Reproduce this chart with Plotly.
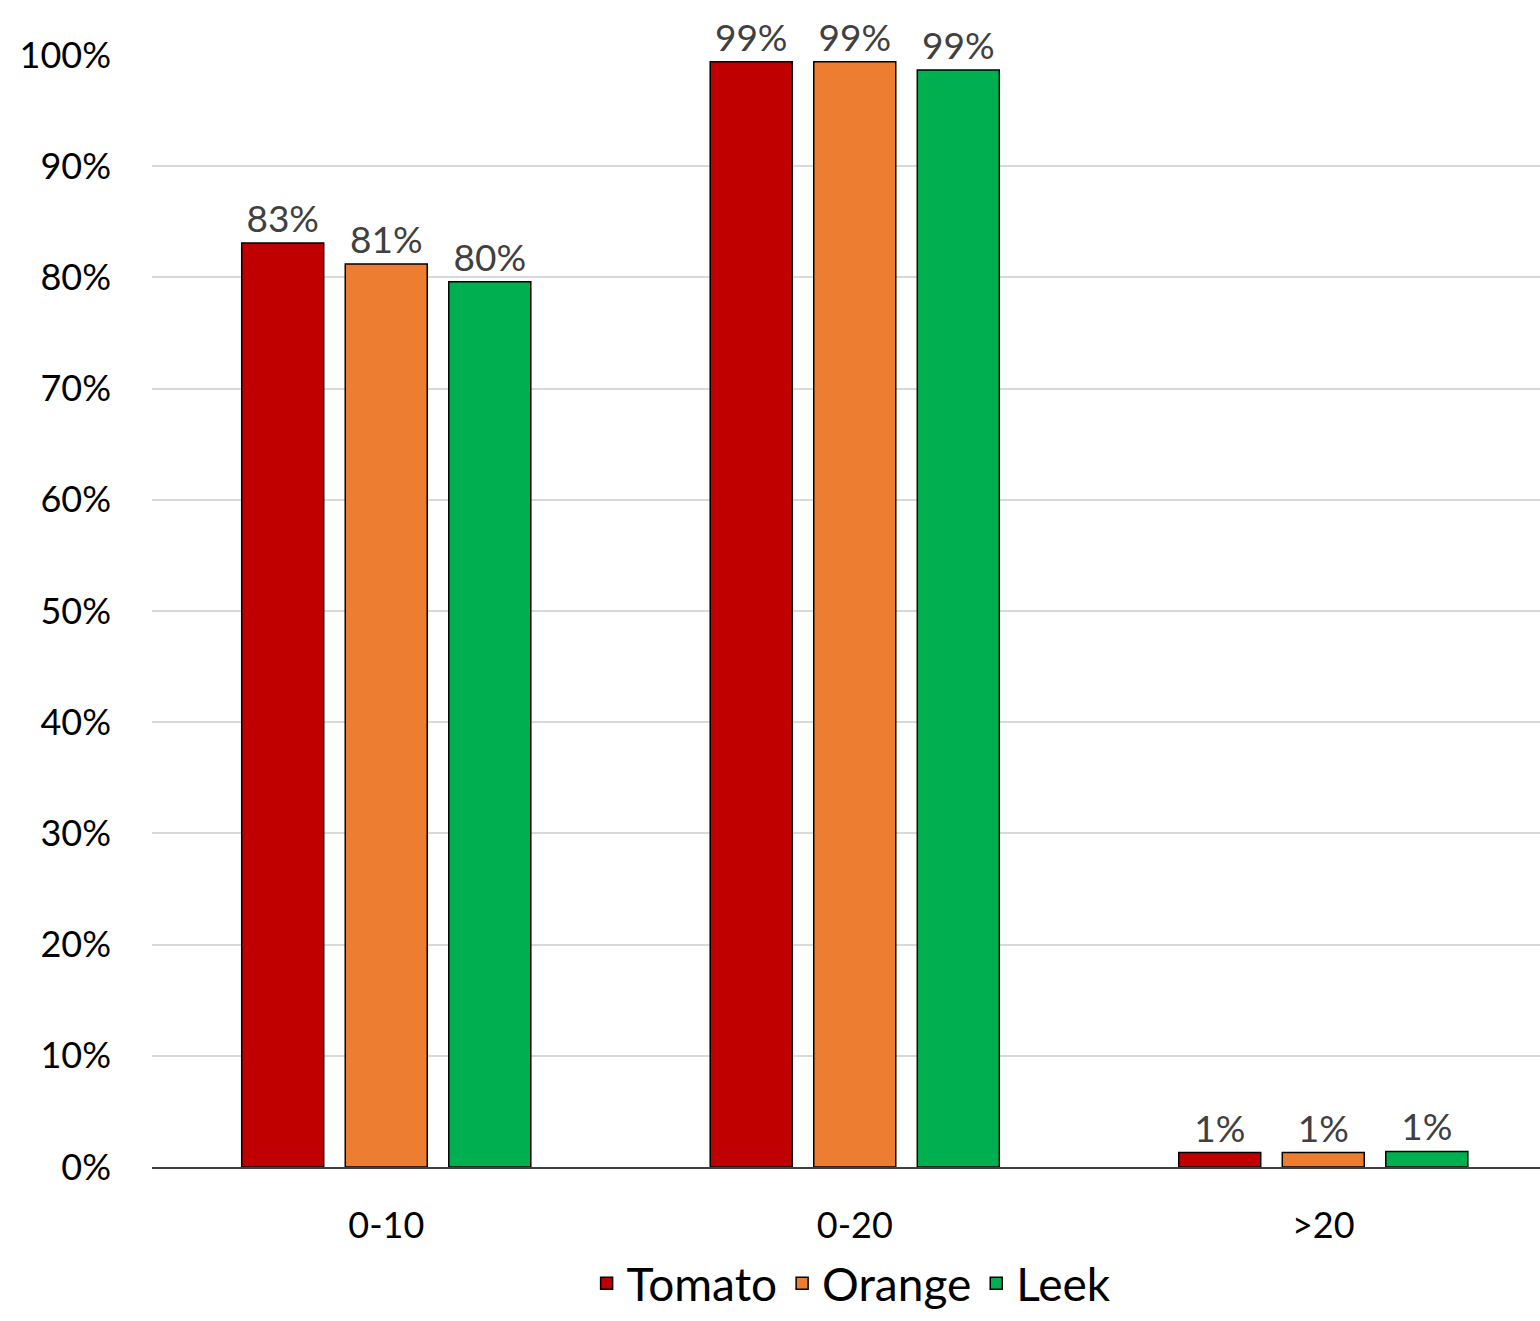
import plotly.graph_objects as go

# Share of samples per size class, by crop
categories = ["0-10", "0-20", ">20"]
tomato = [0.831, 0.994, 0.013]
orange = [0.812, 0.994, 0.013]
leek = [0.796, 0.9865, 0.014]

series_names = ["Tomato", "Orange", "Leek"]
series_values = [tomato, orange, leek]
series_colors = ["#C00000", "#ED7D31", "#00B050"]

y_ticks = [i / 10 for i in range(11)]

FONT = "Lato, 'Open Sans', sans-serif"

fig = go.Figure()
for name, vals, color in zip(series_names, series_values, series_colors):
    fig.add_trace(go.Bar(
        name=name,
        x=categories,
        y=vals,
        marker=dict(color=color, line=dict(color="#000000", width=1.5)),
        texttemplate="%{y:.0%}",
        textposition="outside",
        textfont=dict(family=FONT, size=37, color="#404040"),
        constraintext="none",
        cliponaxis=False,
    ))

fig.update_layout(
    width=1540,
    height=1321,
    margin=dict(l=152, r=0, t=55, b=154),
    paper_bgcolor="white",
    plot_bgcolor="white",
    barmode="group",
    bargap=0.337,
    bargroupgap=0.208,
    font=dict(family=FONT, color="#000000"),
    legend=dict(
        orientation="h",
        xref="container", yref="container",
        x=0.553, xanchor="center",
        y=0.0285, yanchor="middle",
        font=dict(family=FONT, size=46, color="#000000"),
        itemwidth=30,
        traceorder="normal",
    ),
    xaxis=dict(
        type="category",
        range=[-0.5, 2.4626],
        showgrid=False,
        showline=True,
        linecolor="#404040",
        linewidth=2,
        ticks="",
        ticklabelstandoff=26,
        tickfont=dict(family=FONT, size=36, color="#000000"),
    ),
    yaxis=dict(
        range=[0, 1],
        tickvals=y_ticks,
        tickformat=".0%",
        showgrid=True,
        gridcolor="#D9D9D9",
        gridwidth=2,
        zeroline=False,
        showline=False,
        ticks="",
        ticklabelstandoff=40,
        tickfont=dict(family=FONT, size=36, color="#000000"),
    ),
)

fig.write_html("out.html")
